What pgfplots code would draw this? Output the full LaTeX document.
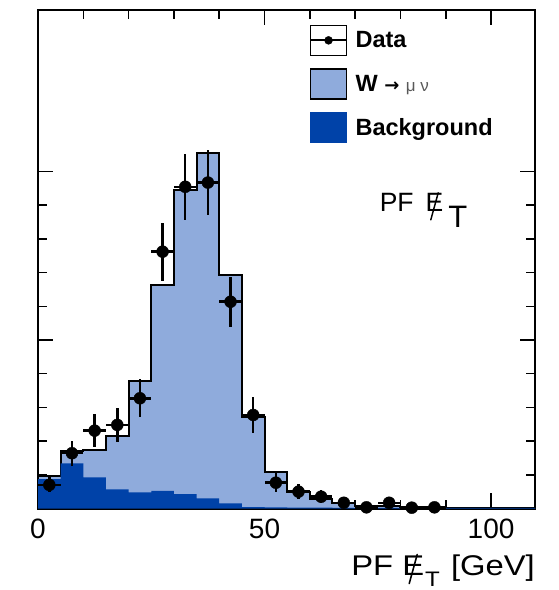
\documentclass[border=0pt]{standalone}
\usepackage{pgfplots}
\pgfplotsset{compat=1.18}
\usepackage{pgfplotstable}
\usepackage{fontspec}
\setmainfont{Liberation Sans}
\newfontfamily\lblfont{Liberation Sans}[FakeStretch=1.15]
\newfontfamily\dvfont{DejaVu Sans}
\definecolor{wlight}{RGB}{143,171,220}
\definecolor{bgdark}{RGB}{0,66,168}
\newcommand{\slE}{{\ooalign{E\cr\hidewidth\tikz[baseline=0pt]\draw[line width=0.055em,line cap=round] (0em,-0.3em) -- (0.28em,0.72em);\hidewidth\cr}}}

\pgfplotstableread{
x y
0 19.5
5 34.3
10 34.5
15 43.0
20 75.7
25 132.6
30 189.0
35 211.2
40 138.6
45 54.5
50 21.5
55 10.0
60 5.5
65 3.0
70 1.6
75 1.2
80 0.9
85 0.7
90 0.5
95 0.4
100 0.3
105 0.3
110 0.3
}\totaltab

\pgfplotstableread{
x y
0 17.5
5 26.8
10 18.5
15 11.4
20 9.5
25 10.5
30 8.6
35 6.0
40 3.1
45 0.8
50 0.6
55 0.5
60 0.5
65 0.4
70 0.4
75 0.3
80 0.3
85 0.3
90 0.3
95 0.3
100 0.3
105 0.3
110 0.3
}\bgtab

\pgfplotstableread{
x y ex ey
2.5 14.0 2.5 4.5
7.5 32.8 2.5 7.5
12.5 46.2 2.5 9.6
17.5 49.6 2.5 9.9
22.5 65.4 2.5 11.4
27.5 152.4 2.5 17.3
32.5 190.9 2.5 19.6
37.5 193.4 2.5 19.2
42.5 122.7 2.5 14.8
47.5 55.5 2.5 10.9
52.5 15.3 2.5 5.5
57.5 10.0 2.5 4.5
62.5 7.0 2.5 3.7
67.5 3.4 2.5 2.6
72.5 0.7 2.5 1.2
77.5 3.4 2.5 2.6
82.5 0.5 2.5 1.0
87.5 0.7 2.5 1.2
}\datatab

\begin{document}
\begin{tikzpicture}
\begin{axis}[
  scale only axis, width=497bp, height=498.5bp,
  xmin=0, xmax=109.7, ymin=0, ymax=295.8,
  axis line style={line width=2.5bp},
  tick align=inside,
  xtick={0,50,100}, minor x tick num=4,
  ytick={0,100,200}, minor y tick num=4, yticklabels={},
  major tick length=15bp, minor tick length=9bp,
  every tick/.style={black, line width=1.5bp},
  ticklabel style={font=\fontsize{28bp}{28bp}\selectfont},
  xticklabel style={yshift=-7bp},
  /pgf/number format/assume math mode=true,
  xlabel={PF\ \slE\kern1bp{\fontsize{21bp}{21bp}\selectfont\raisebox{-11bp}{T}}\kern2bp\ [GeV]},
  xlabel style={at={(rel axis cs:1,0)}, anchor=base east, yshift=-66.5bp,
    font=\lblfont\fontsize{28.5bp}{28.5bp}\selectfont, inner sep=0pt},
  legend style={at={(0.540,0.974)}, anchor=north west, draw=none, fill=none,
    font=\bfseries\fontsize{23.5bp}{23.5bp}\selectfont, row sep=12.5bp,
    /tikz/every even column/.append style={column sep=6bp},
    /tikz/every odd column/.append style={column sep=6bp}},
  legend cell align=left,
]
\addplot[const plot, fill=wlight, draw=black, line width=2bp, forget plot]
  table[x=x,y=y] {\totaltab} \closedcycle;
\addplot[const plot, fill=bgdark, draw=none, forget plot]
  table[x=x,y=y] {\bgtab} \closedcycle;
\addplot[only marks, mark=*, mark size=6bp, black, forget plot,
  error bars/.cd, x dir=both, x explicit, y dir=both, y explicit,
  error bar style={line width=2.5bp}, error mark=none]
  table[x=x,y=y,x error=ex,y error=ey] {\datatab};

\addlegendimage{legend image code/.code={
  \path (0bp,-15bp) rectangle (36bp,15bp);
  \draw[line width=2bp] (0bp,0bp) -- (36bp,0bp);
  \fill (18bp,0bp) circle (4bp);}}
\addlegendentry{Data}
\addlegendimage{legend image code/.code={
  \draw[fill=wlight, line width=1.5bp] (0bp,-15bp) rectangle (36bp,15bp);}}
\addlegendentry{W {\dvfont\bfseries\fontsize{18bp}{18bp}\selectfont →} {\mdseries\fontsize{17bp}{17bp}\selectfont\color{black!65}μ ν}}
\addlegendimage{legend image code/.code={
  \fill[bgdark] (0bp,-15bp) rectangle (36bp,15bp);}}
\addlegendentry{Background}

\node[anchor=base west, inner sep=0pt, font=\fontsize{26.5bp}{26.5bp}\selectfont]
  at (axis cs:75.4,176) {PF\kern12bp\slE\kern5bp{\fontsize{31bp}{31bp}\selectfont\raisebox{-16bp}{T}}};
\end{axis}
\pgfresetboundingbox
\path[use as bounding box] ([xshift=-38bp,yshift=-81.5bp]current axis.south west)
  rectangle ([xshift=24bp,yshift=10bp]current axis.north east);
\end{tikzpicture}
\end{document}
